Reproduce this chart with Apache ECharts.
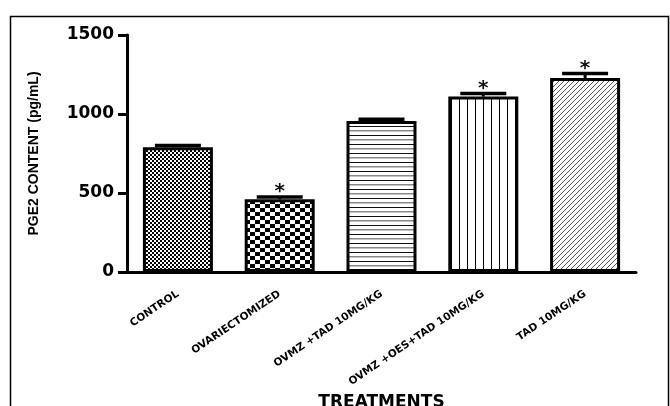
<!DOCTYPE html>
<html>
<head>
<meta charset="utf-8">
<script src="https://cdn.jsdelivr.net/npm/echarts@6/dist/echarts.min.js"></script>
<style>
html,body{margin:0;padding:0;background:#fff;}
#chart{width:670px;height:406px;}
</style>
</head>
<body>
<div id="chart"></div>
<script>
// ---- data ----
const categories = ['CONTROL', 'OVARIECTOMIZED', 'OVMZ +TAD 10MG/KG', 'OVMZ +OES+TAD 10MG/KG', 'TAD 10MG/KG'];
const meanValues = [790, 460, 955, 1110, 1228];
const semValues = [10, 15, 12, 20, 28];
const significant = [false, true, false, true, true];
const yTicks = [0, 500, 1000, 1500];

// ---- patterns ----
function makeCanvas(w, h, draw) {
  const c = document.createElement('canvas');
  c.width = w; c.height = h;
  const ctx = c.getContext('2d');
  ctx.fillStyle = '#fff'; ctx.fillRect(0, 0, w, h);
  draw(ctx);
  return c;
}
const patFineChecker = makeCanvas(4, 4, ctx => {
  ctx.fillStyle = '#000';
  ctx.fillRect(0, 0, 2, 2); ctx.fillRect(2, 2, 2, 2);
});
const patCoarseChecker = makeCanvas(10, 8, ctx => {
  ctx.fillStyle = '#000';
  ctx.fillRect(0, 0, 5, 4); ctx.fillRect(5, 4, 5, 4);
});
const patHLines = makeCanvas(8, 9, ctx => {
  ctx.fillStyle = '#111'; ctx.fillRect(0, 0, 8, 1);
  ctx.fillStyle = '#888'; ctx.fillRect(0, 4, 8, 1.5);
});
const patVLines = makeCanvas(8, 8, ctx => {
  ctx.fillStyle = '#000'; ctx.fillRect(3, 0, 1, 8);
});
const patDiag = makeCanvas(5, 5, ctx => {
  ctx.strokeStyle = '#555'; ctx.lineWidth = 1;
  ctx.beginPath();
  ctx.moveTo(-1, 6); ctx.lineTo(6, -1);
  ctx.moveTo(-1, 1); ctx.lineTo(1, -1);
  ctx.moveTo(4, 6); ctx.lineTo(6, 4);
  ctx.stroke();
});
const patterns = [patFineChecker, patCoarseChecker, patHLines, patVLines, patDiag];

const barData = meanValues.map((v, i) => ({
  value: v,
  itemStyle: { color: { image: patterns[i], repeat: 'repeat' } }
}));
const errData = meanValues.map((v, i) => [i, v, semValues[i], significant[i] ? 1 : 0]);

const chart = echarts.init(document.getElementById('chart'), null, { renderer: 'canvas' });
chart.setOption({
  animation: false,
  backgroundColor: '#fff',
  grid: { left: 127, right: 34, top: 35, bottom: 134, containLabel: false, outerBoundsMode: 'none' },
  graphic: [{
    type: 'rect', left: 8, top: 14, z: -1,
    shape: { width: 658, height: 420 },
    style: { fill: 'none', stroke: '#000', lineWidth: 1.5 }
  }],
  xAxis: {
    type: 'category',
    data: categories,
    name: 'TREATMENTS',
    nameLocation: 'middle',
    nameGap: 117,
    nameTextStyle: { fontFamily: 'DejaVu Sans', fontWeight: 'bold', fontSize: 17, color: '#000' },
    axisLine: { lineStyle: { color: '#000', width: 3 } },
    axisTick: { alignWithLabel: true, length: 6, lineStyle: { color: '#000', width: 3 } },
    axisLabel: {
      interval: 0, rotate: 34, margin: 21,
      fontFamily: 'DejaVu Sans', fontWeight: 'bold', fontSize: 10.5, color: '#000'
    }
  },
  yAxis: {
    type: 'value',
    min: 0, max: 1500, interval: 500,
    name: 'PGE2 CONTENT (pg/mL)',
    nameLocation: 'middle',
    nameGap: 86,
    nameRotate: 90,
    nameTextStyle: { fontFamily: 'Liberation Sans', fontWeight: 'bold', fontSize: 14, color: '#000' },
    splitLine: { show: false },
    axisLine: { show: true, lineStyle: { color: '#000', width: 3 } },
    axisTick: { show: true, length: 9, lineStyle: { color: '#000', width: 3 } },
    axisLabel: {
      margin: 13,
      fontFamily: 'DejaVu Sans', fontWeight: 'bold', fontSize: 17, color: '#000',
      formatter: v => yTicks.includes(v) ? String(v) : ''
    }
  },
  series: [{
    type: 'bar',
    data: barData,
    barWidth: 70,
    itemStyle: { borderColor: '#000', borderWidth: 3 },
    z: 2
  }, {
    type: 'custom',
    data: errData,
    z: 3,
    renderItem: function (params, api) {
      const i = api.value(0), v = api.value(1), e = api.value(2), s = api.value(3);
      const base = api.coord([i, v]);
      const top = api.coord([i, v + e]);
      const half = 23;
      const children = [{
        type: 'line',
        shape: { x1: base[0], y1: base[1], x2: top[0], y2: top[1] },
        style: { stroke: '#000', lineWidth: 3 }
      }, {
        type: 'line',
        shape: { x1: top[0] - half, y1: top[1], x2: top[0] + half, y2: top[1] },
        style: { stroke: '#000', lineWidth: 3.5 }
      }];
      if (s) {
        children.push({
          type: 'text',
          style: {
            text: '*', x: top[0], y: top[1] + 5,
            fontFamily: 'DejaVu Sans', fontWeight: 'bold', fontSize: 20,
            fill: '#111', align: 'center', verticalAlign: 'bottom'
          }
        });
      }
      return { type: 'group', children: children };
    }
  }]
});
</script>
</body>
</html>
